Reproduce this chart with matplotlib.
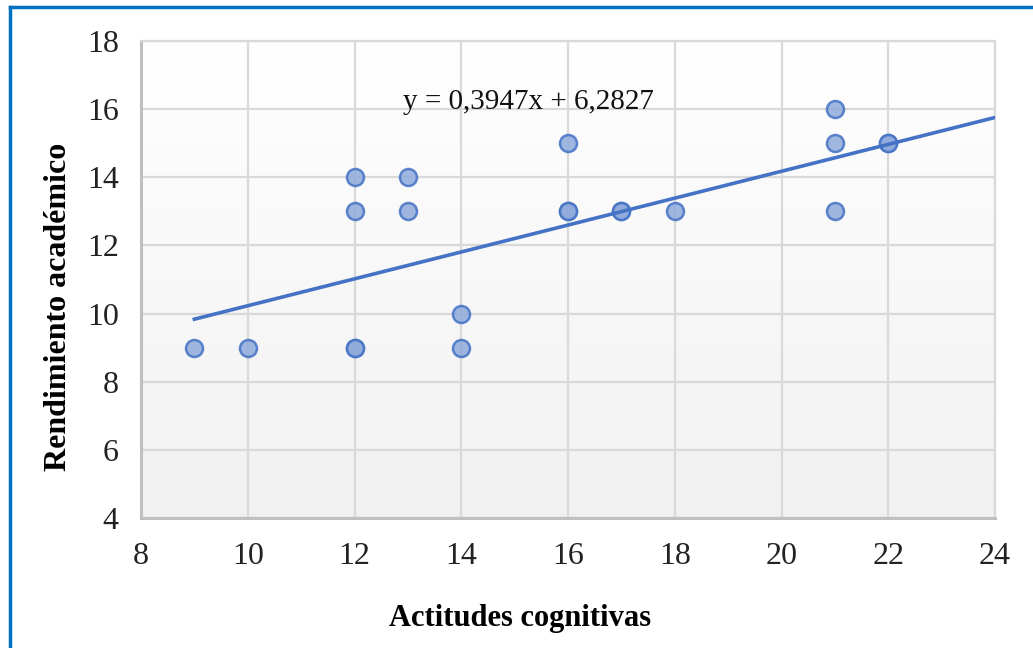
import numpy as np
import matplotlib.pyplot as plt
from matplotlib.lines import Line2D

# data
actitudes = [9, 10, 12, 12, 12, 12, 13, 13, 14, 14, 16, 16, 16, 17, 17, 18, 21, 21, 21, 22, 22]
rendimiento = [9, 9, 9, 9, 13, 14, 13, 14, 9, 10, 13, 13, 15, 13, 13, 13, 13, 15, 16, 15, 15]
pendiente = 0.3947
intercepto = 6.2827
x_tendencia = [9, 24]
x_ticks = [8, 10, 12, 14, 16, 18, 20, 22, 24]
y_ticks = [4, 6, 8, 10, 12, 14, 16, 18]

plt.rcParams['font.family'] = ['Liberation Serif', 'DejaVu Serif']

fig = plt.figure(figsize=(10.33, 6.48), dpi=100)
ax = fig.add_axes([141 / 1033, 1 - 518 / 648, (995 - 141) / 1033, (518 - 41) / 648])

# fondo con degradado
grad = np.linspace(1.0, 0.945, 256).reshape(-1, 1)
ax.imshow(np.dstack([grad, grad, grad]), aspect='auto', extent=[8, 24, 4, 18],
          origin='upper', zorder=0)

ax.set_xlim(8, 24)
ax.set_ylim(4, 18)
ax.set_xticks(x_ticks)
ax.set_yticks(y_ticks)
ax.grid(True, color='#d9d9d9', linewidth=1.6)
ax.set_axisbelow(True)
ax.tick_params(length=0, labelsize=23, colors='#222222')
ax.tick_params(axis='y', pad=16)
ax.tick_params(axis='x', pad=17)
for s in ['top', 'right']:
    ax.spines[s].set_color('#d9d9d9')
    ax.spines[s].set_linewidth(1.6)
for s in ['left', 'bottom']:
    ax.spines[s].set_color('#bfbfbf')
    ax.spines[s].set_linewidth(2.2)

ax.scatter(actitudes, rendimiento, s=150, facecolor='#8faadc', edgecolor='#4472c4',
           linewidth=1.8, alpha=0.85, zorder=3)

xt = np.array(x_tendencia)
ax.plot(xt, pendiente * xt + intercepto, color='#4472c4', linewidth=2.6, zorder=4)
ax.text(15.25, 16.2, 'y = 0,3947x + 6,2827', fontsize=21, ha='center', va='center',
        color='#111111')

ax.set_xlabel('Actitudes cognitivas', fontsize=22, fontweight='bold', labelpad=24)
ax.set_ylabel('Rendimiento académico', fontsize=23, fontweight='bold', labelpad=10)
ax.xaxis.label.set_x((520 - 141) / 854)
ax.yaxis.label.set_y(1 - (307 - 41) / 477)

# marco azul (solo arriba e izquierda visibles)
fig.add_artist(Line2D([10 / 1033, 10 / 1033], [0, 1 - 7 / 648], color='#0070c0', linewidth=2.5))
fig.add_artist(Line2D([10 / 1033, 1], [1 - 7 / 648, 1 - 7 / 648], color='#0070c0', linewidth=2.5))

fig.savefig('out.png', dpi=100)
